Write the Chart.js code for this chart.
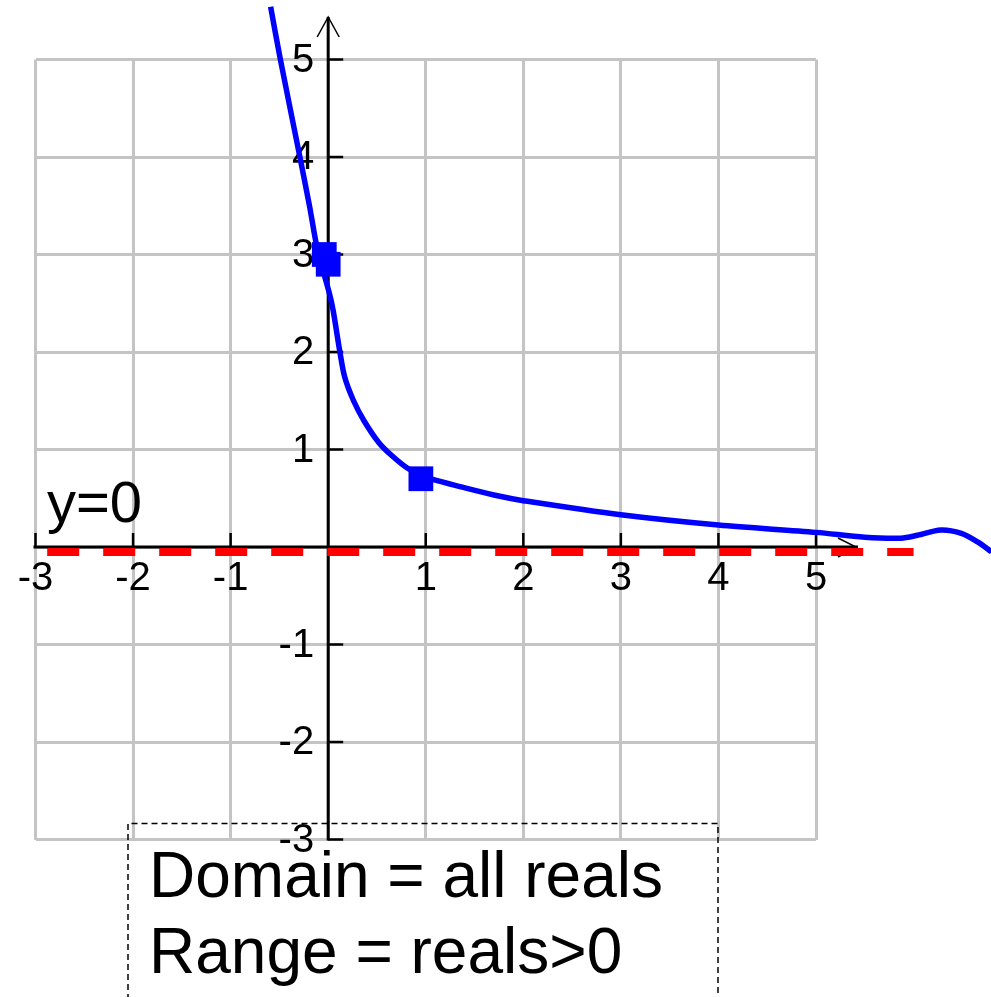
<!DOCTYPE html>
<html>
<head>
<meta charset="utf-8">
<script src="https://cdn.jsdelivr.net/npm/chart.js@4.4.1/dist/chart.umd.min.js"></script>
<style>
  html, body { margin: 0; padding: 0; background: #fff; }
  canvas { display: block; }
</style>
</head>
<body>
<canvas id="graph" width="991" height="997"></canvas>
<script>
// curve y = f(x)
const curveX = [-0.59, -0.49, -0.29, -0.19, -0.11, 0.01, 0.05, 0.12, 0.17, 0.26, 0.37, 0.52, 0.66, 0.81, 0.945, 1.08, 1.35, 1.76, 2.0, 3.0, 4.0, 5.0, 5.5, 5.87, 6.04, 6.28, 6.49, 6.66, 6.80];
const curveY = [5.54, 5.0, 4.0, 3.49, 3.05, 2.61, 2.43, 2.0, 1.74, 1.50, 1.29, 1.07, 0.93, 0.81, 0.74, 0.69, 0.62, 0.52, 0.475, 0.33, 0.225, 0.15, 0.10, 0.09, 0.12, 0.175, 0.14, 0.05, -0.05];

// highlighted points on the curve
const markX = [-0.04, 0.0, 0.95];
const markY = [3.0, 2.9, 0.70];

// horizontal asymptote y = 0
const asymX = [-2.88, 6.0];
const asymY = [0, 0];

// axis labels
const xTicks = [-3, -2, -1, 1, 2, 3, 4, 5];
const yTicks = [5, 4, 3, 2, 1, -1, -2, -3];

const toPoints = (xs, ys) => xs.map((x, i) => ({ x: x, y: ys[i] }));

const LABEL_FONT = '40px "Liberation Sans", Arial, sans-serif';

// grid window is -3..5 on both axes; set after data limits so the
// lines are not cut off at the edge of the grid
const fixRange = (scale) => { scale.min = -3; scale.max = 5; };

// axes through the origin, with arrows, ticks and numbers
const originAxes = {
    id: 'originAxes',
    beforeDatasetsDraw(chart) {
        const ctx = chart.ctx;
        const xs = chart.scales.x;
        const ys = chart.scales.y;
        const x0 = xs.getPixelForValue(0);
        const y0 = ys.getPixelForValue(0);
        const left = xs.getPixelForValue(-3);
        const bottom = ys.getPixelForValue(-3);

        ctx.save();
        ctx.strokeStyle = '#000';
        ctx.fillStyle = '#000';
        ctx.lineWidth = 3;
        ctx.lineCap = 'butt';

        // y axis
        ctx.beginPath();
        ctx.moveTo(x0, bottom + 1);
        ctx.lineTo(x0, 17);
        ctx.stroke();
        // x axis
        ctx.beginPath();
        ctx.moveTo(left - 2, y0);
        ctx.lineTo(858, y0);
        ctx.stroke();

        // tick marks
        ctx.lineWidth = 2.5;
        yTicks.forEach(v => {
            const py = ys.getPixelForValue(v);
            ctx.beginPath();
            ctx.moveTo(x0, py);
            ctx.lineTo(x0 + 15, py);
            ctx.stroke();
        });
        xTicks.forEach(v => {
            const px = xs.getPixelForValue(v);
            ctx.beginPath();
            ctx.moveTo(px, y0);
            ctx.lineTo(px, y0 - 14);
            ctx.stroke();
        });

        // arrow heads
        ctx.lineWidth = 1.5;
        ctx.beginPath();
        ctx.moveTo(x0 - 11, 37);
        ctx.lineTo(x0, 17);
        ctx.lineTo(x0 + 11, 37);
        ctx.stroke();
        ctx.beginPath();
        ctx.moveTo(838, y0 - 9);
        ctx.lineTo(856, y0);
        ctx.lineTo(838, y0 + 10);
        ctx.stroke();

        // numbers
        ctx.font = LABEL_FONT;
        ctx.textAlign = 'center';
        ctx.textBaseline = 'alphabetic';
        xTicks.forEach(v => {
            ctx.fillText(String(v), xs.getPixelForValue(v), y0 + 43);
        });
        ctx.textAlign = 'right';
        ctx.textBaseline = 'middle';
        yTicks.forEach(v => {
            ctx.fillText(String(v), x0 - 14, ys.getPixelForValue(v) + 1);
        });
        ctx.restore();
    },
    afterDraw(chart) {
        const ctx = chart.ctx;
        ctx.save();
        ctx.fillStyle = '#000';
        ctx.textAlign = 'left';
        ctx.textBaseline = 'alphabetic';

        // asymptote label
        ctx.font = '58px "Liberation Sans", Arial, sans-serif';
        ctx.fillText('y=0', 47, 522);

        // dashed box with domain / range
        ctx.strokeStyle = '#000';
        ctx.lineWidth = 1.5;
        ctx.setLineDash([6, 4]);
        ctx.beginPath();
        ctx.moveTo(128, 1000);
        ctx.lineTo(128, 823.5);
        ctx.lineTo(718, 823.5);
        ctx.lineTo(718, 1000);
        ctx.stroke();
        ctx.setLineDash([]);

        ctx.font = '64px "Liberation Sans", Arial, sans-serif';
        ctx.fillText('Domain = all reals', 149, 897);
        ctx.fillText('Range = reals>0', 149, 973);
        ctx.restore();
    }
};

// the asymptote sits just under the x axis line
const shiftDown = {
    id: 'shiftDown',
    beforeDatasetDraw(chart, args) {
        if (args.index === 0) {
            chart.ctx.save();
            chart.ctx.translate(0, 5);
        }
    },
    afterDatasetDraw(chart, args) {
        if (args.index === 0) chart.ctx.restore();
    }
};

const ctxGraph = document.getElementById('graph').getContext('2d');
new Chart(ctxGraph, {
    type: 'scatter',
    data: {
        datasets: [
            {
                label: 'y=0',
                data: toPoints(asymX, asymY),
                showLine: true,
                borderColor: '#ff0000',
                borderWidth: 8,
                borderDash: [32, 24],
                pointRadius: 0,
                clip: false,
                order: 3
            },
            {
                label: 'f(x)',
                data: toPoints(curveX, curveY),
                showLine: true,
                borderColor: '#0000ff',
                borderWidth: 5.5,
                tension: 0.3,
                pointRadius: 0,
                clip: false,
                order: 2
            },
            {
                label: 'points',
                data: toPoints(markX, markY),
                showLine: false,
                pointStyle: 'rect',
                pointRadius: 17.5,
                backgroundColor: '#0000ff',
                borderColor: '#0000ff',
                borderWidth: 0,
                clip: false,
                order: 1
            }
        ]
    },
    options: {
        responsive: false,
        animation: false,
        events: [],
        layout: {
            padding: { left: 35.5, right: 175, top: 59.5, bottom: 157.5 }
        },
        plugins: {
            legend: { display: false },
            tooltip: { enabled: false }
        },
        scales: {
            x: {
                type: 'linear',
                afterDataLimits: fixRange,
                ticks: { display: false, stepSize: 1 },
                grid: { color: '#c4c4c4', lineWidth: 3, drawTicks: false },
                border: { display: false }
            },
            y: {
                type: 'linear',
                afterDataLimits: fixRange,
                ticks: { display: false, stepSize: 1 },
                grid: { color: '#c4c4c4', lineWidth: 3, drawTicks: false },
                border: { display: false }
            }
        }
    },
    plugins: [originAxes, shiftDown]
});
</script>
</body>
</html>
